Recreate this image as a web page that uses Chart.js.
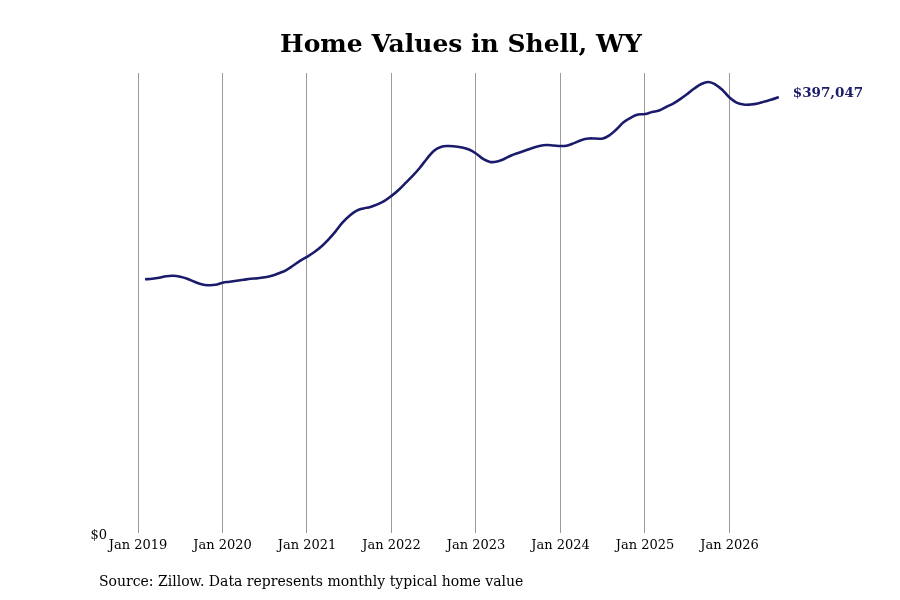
<!DOCTYPE html>
<html>
<head>
<meta charset="utf-8">
<script src="https://cdn.jsdelivr.net/npm/chart.js@4.4.1/dist/chart.umd.min.js"></script>
<style>
  html, body { margin: 0; padding: 0; background: #ffffff; }
  #wrap { width: 900px; height: 600px; position: relative; }
</style>
</head>
<body>
<div id="wrap"><canvas id="c" width="900" height="600"></canvas></div>
<script>
// ---- data ----
const chartTitle = 'Home Values in Shell, WY';
const sourceNote = 'Source: Zillow. Data represents monthly typical home value';
const startYear = 2019;
const tickYears = [2019, 2020, 2021, 2022, 2023, 2024, 2025, 2026];
const tickLabels = ['Jan 2019', 'Jan 2020', 'Jan 2021', 'Jan 2022', 'Jan 2023', 'Jan 2024', 'Jan 2025', 'Jan 2026'];
// monthly typical home value, Jan 2019 .. Jul 2026
const homeValues = [
  231200, 231700, 232600, 234000, 234400, 233500, 231700, 229000, 226700, 225800, 226200, 228100,
  229000, 229900, 230800, 231700, 232100, 233000, 234400, 236700, 239400, 243500, 248000, 251700,
  255800, 260800, 267100, 274400, 282600, 288900, 293500, 295700, 297100, 299400, 302600, 307100,
  312500, 318900, 325300, 332500, 340700, 348000, 351600, 352500, 352100, 351200, 349300, 345700,
  340700, 338000, 338400, 340700, 343900, 346200, 348400, 350700, 352500, 353400, 353000, 352500,
  353000, 355300, 358000, 359300, 359300, 359300, 362500, 368000, 374300, 378400, 381100, 381600,
  383400, 384800, 388000, 391100, 395200, 399800, 404800, 408900, 410700, 408400, 403400, 396600,
  392000, 390200, 390200, 391100, 393000, 394800, 397047
];
const monthLabels = homeValues.map((_, i) => {
  const y = startYear + Math.floor(i / 12);
  const m = (i % 12) + 1;
  return y + '-' + String(m).padStart(2, '0');
});

// ---- build points (x = end of month as decimal year) ----
const points = monthLabels.map((lab, i) => {
  const [y, m] = lab.split('-').map(Number);
  return { x: y + m / 12, y: homeValues[i] };
});

const lineColor = '#1b1b6b';
const serif = '"DejaVu Serif", "Liberation Serif", serif';
const pxPerYear = 84.5;
const areaLeft = 122, areaRight = 800;
const xMin = tickYears[0] - (138 - areaLeft) / pxPerYear;
const xMax = xMin + (areaRight - areaLeft) / pxPerYear;
const yMax = Math.max(...homeValues) * 1.02;

const fmt = v => '$' + Math.round(v).toLocaleString('en-US');

const annotations = {
  id: 'annotations',
  afterDraw(chart) {
    const ctx = chart.ctx;
    const xs = chart.scales.x, ys = chart.scales.y;
    ctx.save();
    // $0 label
    ctx.font = '13px ' + serif;
    ctx.fillStyle = '#000';
    ctx.textAlign = 'right';
    ctx.textBaseline = 'middle';
    ctx.fillText('$0', xs.getPixelForValue(tickYears[0]) - 31, ys.getPixelForValue(0) + 2);
    // end value label
    const last = points[points.length - 1];
    ctx.font = 'bold 13.5px ' + serif;
    ctx.fillStyle = lineColor;
    ctx.textAlign = 'left';
    ctx.fillText(fmt(last.y), xs.getPixelForValue(last.x) + 14, ys.getPixelForValue(last.y) - 4);
    // source
    ctx.font = '14px ' + serif;
    ctx.fillStyle = '#000';
    ctx.fillText(sourceNote, 99, 582);
    ctx.restore();
  }
};

new Chart(document.getElementById('c'), {
  type: 'line',
  data: {
    datasets: [{
      data: points,
      borderColor: lineColor,
      borderWidth: 2.6,
      pointRadius: 0,
      tension: 0.4,
      fill: false
    }]
  },
  options: {
    responsive: false,
    animation: false,
    devicePixelRatio: 1,
    layout: { padding: { left: areaLeft, right: 900 - areaRight, top: 0, bottom: 43 } },
    plugins: {
      legend: { display: false },
      tooltip: { enabled: false },
      title: {
        display: true,
        text: chartTitle,
        color: '#000',
        font: { family: serif, size: 25, weight: 'bold' },
        padding: { top: 30, bottom: 13 }
      }
    },
    scales: {
      x: {
        type: 'linear',
        min: xMin,
        max: xMax,
        afterBuildTicks: s => { s.ticks = tickYears.map(v => ({ value: v })); },
        ticks: {
          autoSkip: false,
          maxRotation: 0,
          padding: 4,
          color: '#000',
          font: { family: serif, size: 13 },
          callback: (v) => tickLabels[tickYears.indexOf(v)] ?? ''
        },
        grid: { color: '#9a9a9a', lineWidth: 1, drawTicks: false },
        border: { display: false }
      },
      y: {
        display: false,
        min: 0,
        max: yMax
      }
    }
  },
  plugins: [annotations]
});
</script>
</body>
</html>
